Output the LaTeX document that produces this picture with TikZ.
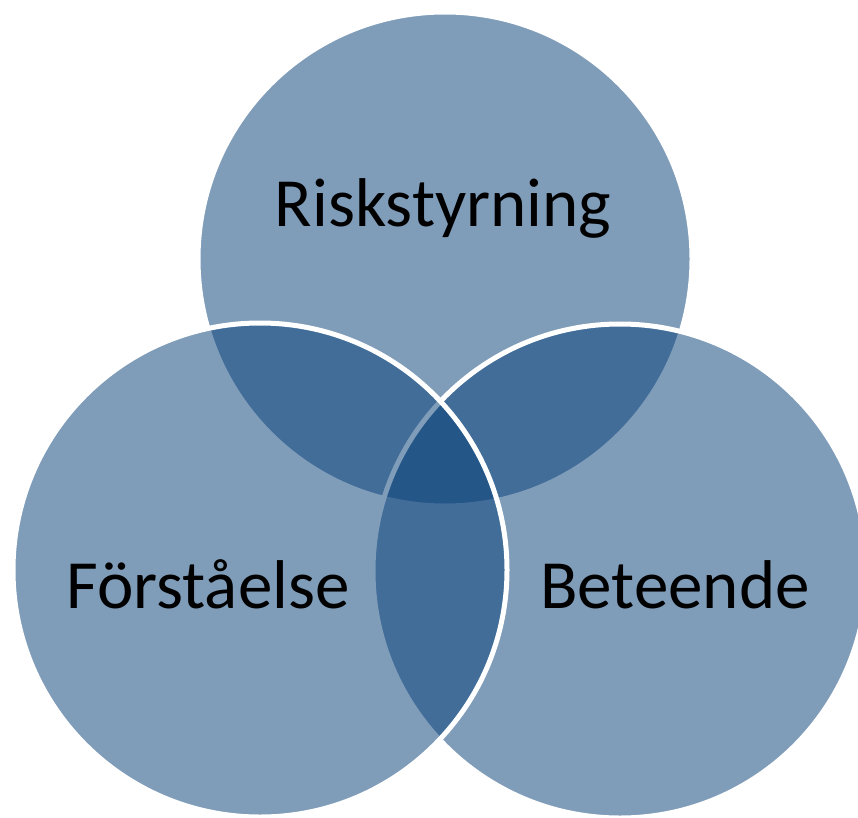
\documentclass[tikz,border=0pt]{standalone}
\usepackage{fontspec}
\setmainfont{Carlito}
\definecolor{vennfill}{RGB}{10,66,122}
\tikzset{
  venn/.style={fill=vennfill, fill opacity=0.52, draw=white, line width=5bp},
  lbl/.style={anchor=base, text=black, inner sep=0pt, font=\fontsize{69bp}{82bp}\selectfont}
}
\begin{document}
\begin{tikzpicture}[x=1bp,y=-1bp]
\useasboundingbox (0,0) rectangle (858,818);
\fill[white] (0,0) rectangle (858,818);
\path[venn] (445,259) circle[radius=247] coordinate (ctop);
\path[venn] (620,571) circle[radius=247] coordinate (cright);
\path[venn] (260,570) circle[radius=247] coordinate (cleft);
\node[lbl] (risk) at (443,226) {Riskstyrning};
\node[lbl] (forst) at (208,608) {Förståelse};
\node[lbl] (bete) at (675,608) {Beteende};
\end{tikzpicture}
\end{document}
